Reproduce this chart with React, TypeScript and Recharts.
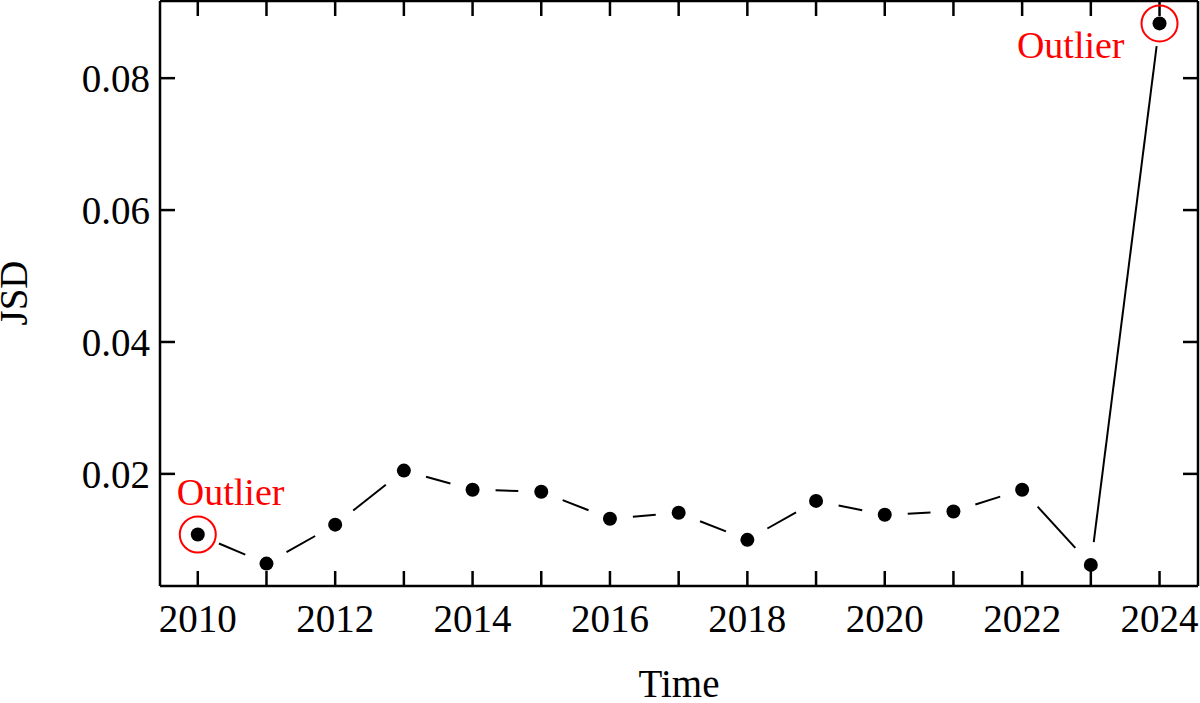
import { LineChart, Line, XAxis, YAxis, ReferenceLine } from 'recharts';

const years = [2010, 2011, 2012, 2013, 2014, 2015, 2016, 2017, 2018, 2019, 2020, 2021, 2022, 2023, 2024];
const jsd = [0.0108, 0.0064, 0.0123, 0.0205, 0.0176, 0.0173, 0.0132, 0.0141, 0.01, 0.0159, 0.0138, 0.0143, 0.0176, 0.0062, 0.0883];
const outlierYears = [2010, 2024];
const labelYears = [2010, 2012, 2014, 2016, 2018, 2020, 2022, 2024];
const yTicks = [0.02, 0.04, 0.06, 0.08];

const data = years.map((year, i) => ({ year, jsd: jsd[i] }));

const font = '"Liberation Serif", "Times New Roman", serif';
const GAP = 23;
const xDomain = [2009.45, 2024.56];
const yDomain = [0.003, 0.0917];
const PLOT_W = 1038;
const PLOT_H = 585;
const TICK_PX = 15;
// tick length expressed in axis units
const xTickLen = (TICK_PX * (xDomain[1] - xDomain[0])) / PLOT_W;
const yTickLen = (TICK_PX * (yDomain[1] - yDomain[0])) / PLOT_H;
const tickText = { fill: '#000', fontSize: 39, fontFamily: font };
const frame = { stroke: '#000', strokeWidth: 2.5 };

// dot + trimmed segment to the next point (line with gaps around markers)
const JsdDot = (props: any) => {
  const { cx, cy, index, points, payload } = props;
  const next = points && points[index + 1];
  let seg = null;
  if (next) {
    const dx = next.x - cx;
    const dy = next.y - cy;
    const len = Math.hypot(dx, dy);
    if (len > GAP * 2) {
      const ux = dx / len;
      const uy = dy / len;
      seg = (
        <path
          d={`M${cx + ux * GAP},${cy + uy * GAP}L${next.x - ux * GAP},${next.y - uy * GAP}`}
          stroke="#000"
          strokeWidth={2}
        />
      );
    }
  }
  const outlier = outlierYears.includes(payload.year);
  const first = index === 0;
  return (
    <g>
      {seg}
      <circle cx={cx} cy={cy} r={7} fill="#000" />
      {outlier && <circle cx={cx} cy={cy} r={18} fill="none" stroke="#f00" strokeWidth={2} />}
      {outlier && (
        <text
          x={first ? cx - 21 : cx - 35}
          y={first ? cy - 30 : cy + 35}
          textAnchor={first ? 'start' : 'end'}
          fontSize={38}
          fontFamily={font}
          fill="#f00"
        >
          Outlier
        </text>
      )}
    </g>
  );
};

export default function App() {
  return (
    <div style={{ position: 'relative', width: 1200, height: 703, background: '#fff' }}>
      <style>{'body{margin:0}'}</style>
      <LineChart width={1200} height={703} data={data} margin={{ top: 0, right: 1, bottom: 0, left: 0 }}>
        <XAxis
          xAxisId="b"
          dataKey="year"
          type="number"
          domain={xDomain}
          ticks={years}
          allowDataOverflow
          height={117}
          tickSize={-15}
          tickMargin={33}
          axisLine={frame}
          tickLine={false}
          tick={tickText}
          tickFormatter={(v: number) => (labelYears.includes(v) ? String(v) : '')}
          interval={0}
        />
        <XAxis
          xAxisId="t"
          orientation="top"
          dataKey="year"
          type="number"
          domain={xDomain}
          allowDataOverflow
          height={1}
          axisLine={frame}
          tickLine={false}
          tick={false}
        />
        <YAxis
          yAxisId="l"
          type="number"
          domain={yDomain}
          ticks={yTicks}
          allowDataOverflow
          width={160}
          tickSize={-15}
          tickMargin={25}
          axisLine={frame}
          tickLine={false}
          tick={tickText}
          interval={0}
        />
        <YAxis
          yAxisId="r"
          orientation="right"
          type="number"
          domain={yDomain}
          allowDataOverflow
          width={1}
          axisLine={frame}
          tickLine={false}
          tick={false}
        />
        {/* inward ticks on all four sides */}
        {years.map((yr) => (
          <ReferenceLine
            key={`b${yr}`}
            xAxisId="b"
            yAxisId="l"
            segment={[
              { x: yr, y: yDomain[0] },
              { x: yr, y: yDomain[0] + yTickLen },
            ]}
            stroke="#000"
            strokeWidth={2.5}
            ifOverflow="visible"
          />
        ))}
        {years.map((yr) => (
          <ReferenceLine
            key={`t${yr}`}
            xAxisId="b"
            yAxisId="l"
            segment={[
              { x: yr, y: yDomain[1] },
              { x: yr, y: yDomain[1] - yTickLen },
            ]}
            stroke="#000"
            strokeWidth={2.5}
            ifOverflow="visible"
          />
        ))}
        {yTicks.map((v) => (
          <ReferenceLine
            key={`l${v}`}
            xAxisId="b"
            yAxisId="l"
            segment={[
              { x: xDomain[0], y: v },
              { x: xDomain[0] + xTickLen, y: v },
            ]}
            stroke="#000"
            strokeWidth={2.5}
            ifOverflow="visible"
          />
        ))}
        {yTicks.map((v) => (
          <ReferenceLine
            key={`r${v}`}
            xAxisId="b"
            yAxisId="l"
            segment={[
              { x: xDomain[1], y: v },
              { x: xDomain[1] - xTickLen, y: v },
            ]}
            stroke="#000"
            strokeWidth={2.5}
            ifOverflow="visible"
          />
        ))}
        <Line
          xAxisId="b"
          yAxisId="l"
          dataKey="jsd"
          stroke="none"
          dot={(p: any) => <JsdDot key={`d${p.index}`} {...p} />}
          activeDot={false}
          isAnimationActive={false}
        />
      </LineChart>
      {/* axis titles */}
      <svg width={1200} height={703} style={{ position: 'absolute', left: 0, top: 0, pointerEvents: 'none' }}>
        <text x={679} y={697} textAnchor="middle" fontSize={39} fontFamily={font} fill="#000">
          Time
        </text>
        <text
          x={27}
          y={293}
          transform="rotate(-90 27 293)"
          textAnchor="middle"
          fontSize={39}
          fontFamily={font}
          fill="#000"
        >
          JSD
        </text>
      </svg>
    </div>
  );
}
